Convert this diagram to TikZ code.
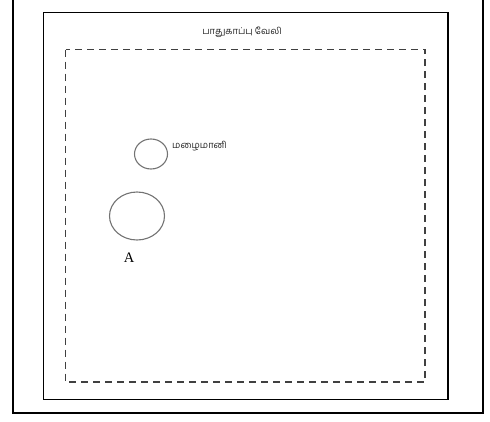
\documentclass[tikz,border=0pt]{standalone}
\usepackage{fontspec}
\setmainfont{Liberation Serif}
\newfontfamily\tamilfont[Script=Tamil]{Hind Madurai}
\usetikzlibrary{shapes.geometric}
\definecolor{linegray}{gray}{0.45}
\tikzset{
  frame/.style={draw=black, line width=1.6pt},
  fence/.style={draw=black!75, line width=1.4pt, dash pattern=on 7pt off 5pt},
  gauge/.style={ellipse, draw=linegray, line width=1.1pt, inner sep=0pt},
  tlabel/.style={font=\tamilfont\fontsize{9.3}{10}\selectfont, text=black!85, inner sep=0pt},
}
\begin{document}
\begin{tikzpicture}[x=1pt,y=-1pt]
\useasboundingbox (0,0) rectangle (490,421);
% outer frame (top edge outside picture)
\draw[line width=1.8pt] (13,0) -- (13,413) -- (483,413) -- (483,0);
% inner solid rectangle
\draw[frame] (43.5,12.5) rectangle (448,399.5);
% dashed fence
\draw[fence] (65.5,49.5) rectangle (425,382);
\node[tlabel] (fence) at (242,32) {பாதுகாப்பு வேலி};
% rain gauge
\node[gauge, minimum width=33pt, minimum height=30pt] (gauge) at (151,154) {};
\node[tlabel, anchor=west] (gaugelabel) at (172,146) {மழைமானி};
% circle A
\node[gauge, minimum width=55pt, minimum height=48pt] (circA) at (137,216) {};
\node[font=\fontsize{14.5}{16}\selectfont, inner sep=0pt] (labelA) at (129,258) {A};
\end{tikzpicture}
\end{document}
